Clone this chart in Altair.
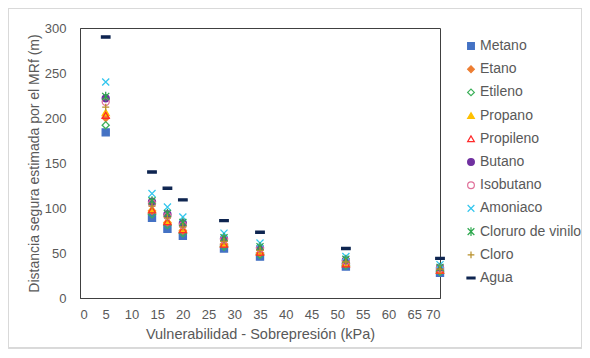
import altair as alt
import pandas as pd

x_kpa = [5, 14, 17, 20, 28, 35, 51.7, 70]

series_names = ["Metano", "Etano", "Etileno", "Propano", "Propileno", "Butano",
                "Isobutano", "Amoniaco", "Cloruro de vinilo", "Cloro", "Agua"]

metano = [184, 89, 77, 69, 55, 46, 35, 28]
etano = [200, 97, 84, 75, 60, 50, 38, 30]
etileno = [192, 93, 81, 72, 57, 48, 36, 29]
propano = [206, 99, 86, 77, 61, 52, 39, 31]
propileno = [203, 98, 85, 76, 60, 51, 38, 31]
butano = [222, 107, 93, 83, 66, 56, 42, 34]
isobutano = [218, 105, 91, 81, 65, 55, 41, 33]
amoniaco = [240, 116, 101, 90, 72, 61, 46, 37]
cloruro_vinilo = [224, 108, 94, 84, 67, 57, 43, 34]
cloro = [212, 102, 89, 79, 63, 53, 40, 32]
agua = [290, 140, 122, 109, 86, 73, 55, 44]

values = [metano, etano, etileno, propano, propileno, butano, isobutano,
          amoniaco, cloruro_vinilo, cloro, agua]

strokes = ["#4472C4", "#ED7D31", "#3CB05A", "#FFC000", "#FF2A2A", "#7030A0",
           "#E0709A", "#33C6EE", "#2EA84E", "#B8902A", "#0E2550"]
fills = ["#4472C4", "#ED7D31", "transparent", "#FFC000", "transparent", "#7030A0",
         "transparent", "transparent", "transparent", "transparent", "#0E2550"]
shapes = ["square", "diamond", "diamond", "triangle-up", "triangle-up", "circle",
          "circle", "M-1,-1L1,1M-1,1L1,-1",
          "M-1,-1L1,1M-1,1L1,-1M0,-1.3L0,1.3",
          "M-1,0L1,0M0,-1L0,1",
          "M-1.2,-0.3H1.2V0.3H-1.2Z"]

rows = []
for name, vals in zip(series_names, values):
    for xv, yv in zip(x_kpa, vals):
        rows.append({"serie": name, "x": xv, "y": yv})
df = pd.DataFrame(rows)

scale_stroke = alt.Scale(domain=series_names, range=strokes)
scale_fill = alt.Scale(domain=series_names, range=fills)
scale_shape = alt.Scale(domain=series_names, range=shapes)

legend = alt.Legend(title=None, orient="none", legendX=384, legendY=11,
                    labelFontSize=14, labelColor="#595959", labelFont="Liberation Sans",
                    symbolSize=45, rowPadding=9.2, symbolStrokeWidth=1.2,
                    labelOffset=2, labelLimit=200)

axis_common = dict(grid=False, ticks=False, labelColor="#595959", titleColor="#595959",
                   titleFontWeight="normal", labelFont="Liberation Sans",
                   titleFont="Liberation Sans", domainColor="#404040")

points = alt.Chart(df).mark_point(size=50, strokeWidth=1.3, opacity=1).encode(
    x=alt.X("x:Q", scale=alt.Scale(domain=[0, 70], nice=False),
            axis=alt.Axis(values=list(range(0, 71, 5)), title="Vulnerabilidad - Sobrepresión (kPa)",
                          labelPadding=10, titlePadding=6, labelFontSize=13, titleFontSize=14.5,
                          **axis_common)),
    y=alt.Y("y:Q", scale=alt.Scale(domain=[0, 300], nice=False),
            axis=alt.Axis(values=list(range(0, 301, 50)), title="Distancia segura estimada por el MRf (m)",
                          labelPadding=14, titlePadding=3, labelFontSize=13, titleFontSize=14,
                          **axis_common)),
    stroke=alt.Stroke("serie:N", scale=scale_stroke, legend=legend, sort=series_names),
    fill=alt.Fill("serie:N", scale=scale_fill, legend=legend, sort=series_names),
    shape=alt.Shape("serie:N", scale=scale_shape, legend=legend, sort=series_names),
)

border = alt.Chart(df).mark_rect(fill=None, stroke="#D9D9D9", strokeWidth=1).encode(
    x=alt.value(-71.5), x2=alt.value(501.5), y=alt.value(-19.5), y2=alt.value(320)
)

chart = alt.layer(border, points).properties(
    width=360, height=270,
    autosize=alt.AutoSizeParams(type="none"),
    padding={"left": 72, "top": 20, "right": 142, "bottom": 52},
).configure_view(stroke="#404040", strokeWidth=1)

chart.save("out.html", embed_options={"renderer": "svg", "actions": False})
